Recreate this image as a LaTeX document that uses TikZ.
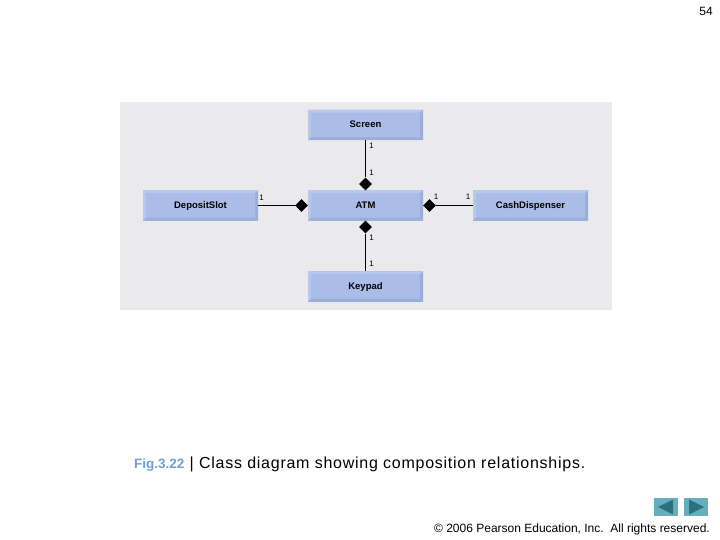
\documentclass[tikz,border=0pt]{standalone}
\usepackage{fontspec}
\setmainfont{Liberation Sans}
\usetikzlibrary{shapes.geometric}
\definecolor{panelgray}{HTML}{EAEAEC}
\definecolor{boxblue}{HTML}{A9BDE8}
\definecolor{boxlight}{HTML}{B8C8EC}
\definecolor{boxdark}{HTML}{9AAEDA}
\definecolor{figblue}{HTML}{6F9FD8}
\definecolor{navlight}{HTML}{64AEBE}
\definecolor{navdark}{HTML}{2F6F7E}
\tikzset{
      classbox/.style={
                  minimum width=115pt, minimum height=30.5pt, inner sep=0pt,
                  text height=6pt, text depth=0pt,
                  fill=boxblue, font=\fontsize{9.5}{11}\selectfont\bfseries,
                  path picture={
                              % top and left edges lighter, bottom and right darker
                              \fill [boxlight] (path picture bounding box.north west) -- (path picture bounding box.north east) -- ++(-3pt,-3pt) -- ++(-109pt,0pt) -- ++(0pt,-24.5pt) -- (path picture bounding box.south west) -- cycle;
                              \fill [boxdark] (path picture bounding box.south east) -- (path picture bounding box.north east) -- ++(-3pt,-3pt) -- ++(0pt,-24.5pt) -- ++(-109pt,0pt) -- (path picture bounding box.south west) -- cycle;
                        }
            },
      compdiamond/.style={diamond, fill=black, inner sep=0pt, minimum width=13pt, minimum height=13pt},
      multlabel/.style={font=\fontsize{8}{9}\selectfont, inner sep=0pt},
      navbutton/.style={fill=navlight, minimum width=24pt, minimum height=18pt, inner sep=0pt},
      assoc/.style={draw=black, line width=1pt}
}
\begin{document}
\begin{tikzpicture}[x=1pt, y=-1pt]
                  % page and grey panel
                  \useasboundingbox (0, 0) rectangle (720, 540);
                  \fill [white] (0, 0) rectangle (720, 540);
                  \fill [panelgray] (120, 102) rectangle (612, 310);
                  % classes
                  \node [classbox] (Screen) at (365.5, 125) {Screen};
                  \node [classbox] (ATM) at (365.5, 205.5) {ATM};
                  \node [classbox] (DepositSlot) at (200.5, 205.5) {DepositSlot};
                  \node [classbox] (CashDispenser) at (530.5, 205.5) {CashDispenser};
                  \node [classbox] (Keypad) at (365.5, 286.5) {Keypad};
                  % composition diamonds against the ATM box
                  \node [compdiamond] (dTop) at (365.5, 184) {};
                  \node [compdiamond] (dLeft) at (301.5, 205.5) {};
                  \node [compdiamond] (dRight) at (429.5, 205.5) {};
                  \node [compdiamond] (dBottom) at (365.5, 227) {};
                  \draw [assoc] (Screen) -- (dTop);
                  \draw [assoc] (DepositSlot) -- (dLeft);
                  \draw [assoc] (CashDispenser) -- (dRight);
                  \draw [assoc] (Keypad) -- (dBottom);
                  % multiplicities
                  \node [multlabel] (m1) at (371.5, 146) {1};
                  \node [multlabel] (m2) at (371.5, 173) {1};
                  \node [multlabel] (m3) at (261.5, 198) {1};
                  \node [multlabel] (m4) at (436, 197) {1};
                  \node [multlabel] (m5) at (468, 197) {1};
                  \node [multlabel] (m6) at (371.5, 238) {1};
                  \node [multlabel] (m7) at (371.5, 264) {1};
                  % page texts
                  \node [font=\fontsize{12}{14}\selectfont, anchor=east, inner sep=0pt] (page) at (713, 11) {54};
                  \node [font=\fontsize{13.5}{14}\selectfont\bfseries, text=figblue, anchor=west, inner sep=0pt] (fig) at (134, 465) {Fig.3.22};
                  \node [font=\fontsize{16}{18}\selectfont\addfontfeature{LetterSpace=4.7}, anchor=west, inner sep=0pt] (caption) at (189.5, 464) {| Class diagram showing composition relationships.};
                  \node [font=\fontsize{12}{14}\selectfont, anchor=east, inner sep=0pt] (rights) at (710, 529) {© 2006 Pearson Education, Inc.\ \ All rights reserved.};
                  % navigation buttons
                  \node [navbutton] (prev) at (666, 507) {};
                  \node [navbutton] (next) at (696, 507) {};
                  \fill [navdark] (658, 507) -- (673, 499.5) -- (673, 514.5) -- cycle;
                  \fill [navdark] (689, 499.5) -- (704, 507) -- (689, 514.5) -- cycle;
            \end{tikzpicture}
\end{document}
